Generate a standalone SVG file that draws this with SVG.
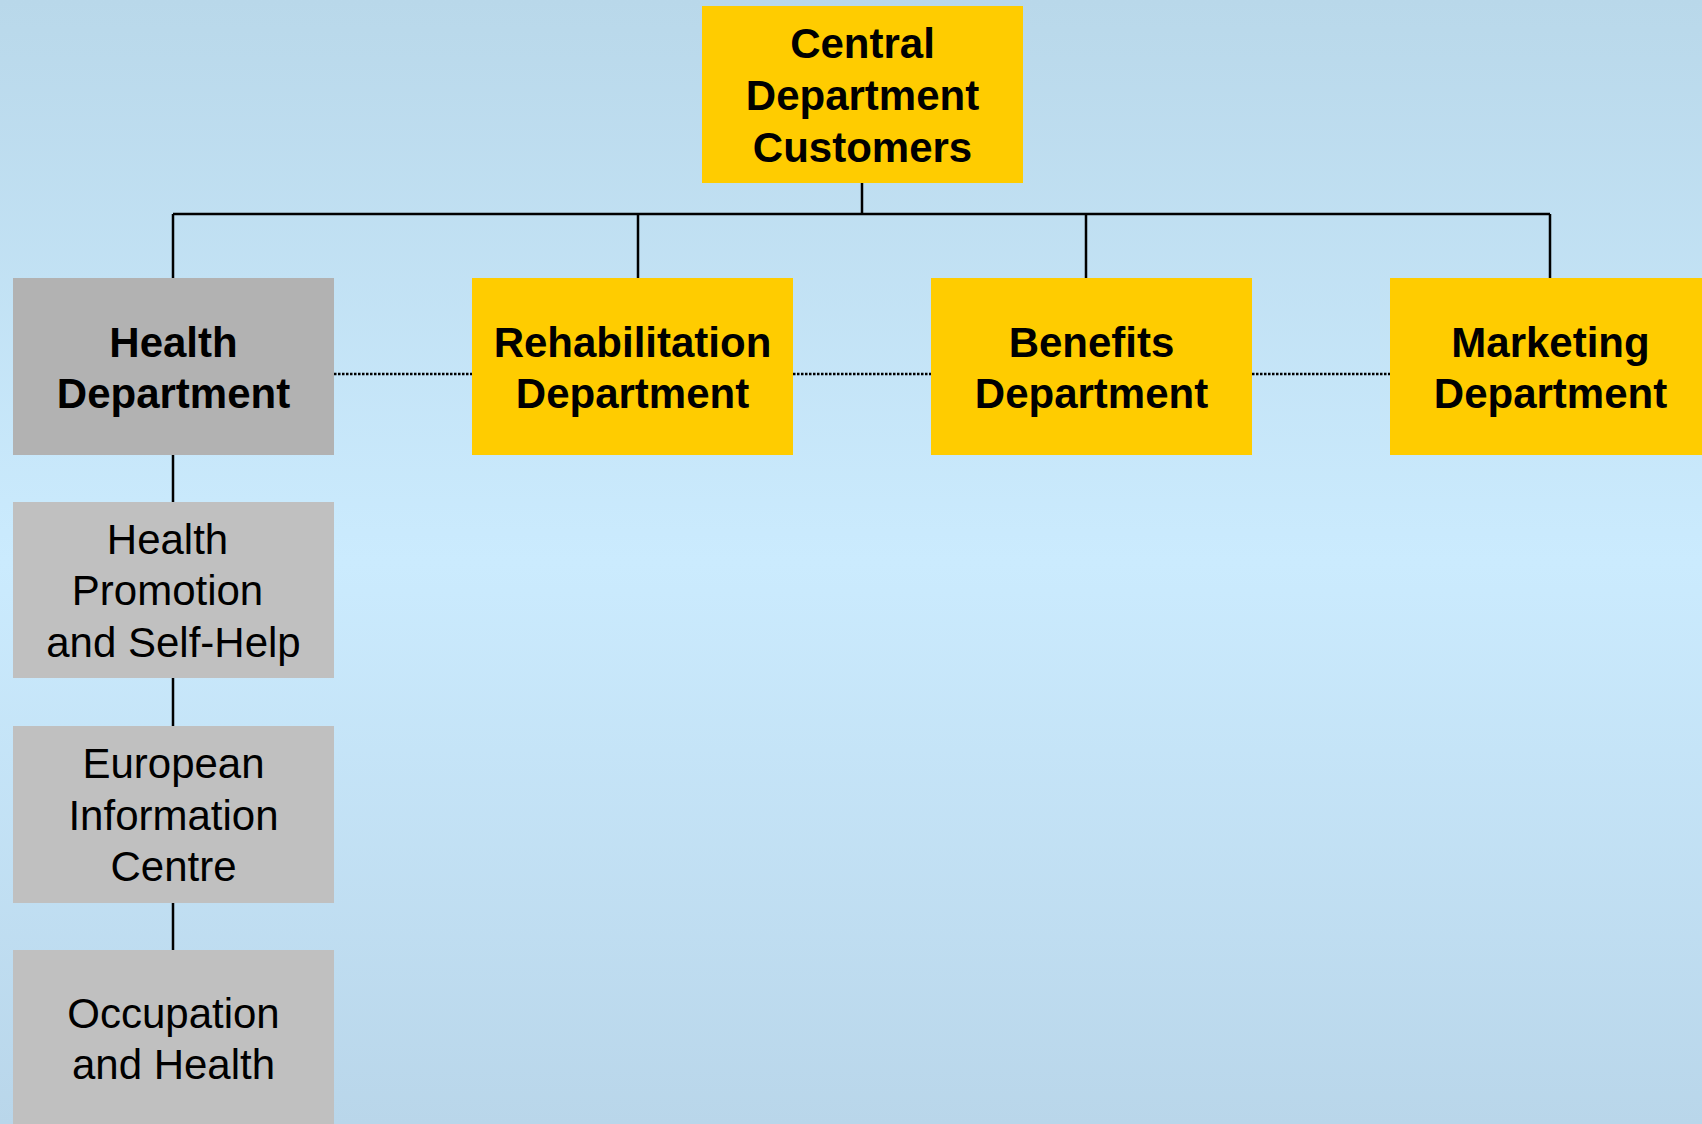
<svg xmlns="http://www.w3.org/2000/svg" width="1702" height="1124" viewBox="0 0 1702 1124">
<defs>
<linearGradient id="bg" x1="0" y1="0" x2="0" y2="1">
<stop offset="0" stop-color="#B9D8EA"/>
<stop offset="0.5" stop-color="#CBEBFE"/>
<stop offset="1" stop-color="#B9D6EA"/>
</linearGradient>
<style>
.y{fill:#FFCC00}
.g1{fill:#B2B2B2}
.g2{fill:#C0C0C0}
.b{font-family:"Liberation Sans",Arial,sans-serif;font-size:42px;font-weight:bold;fill:#000;text-anchor:middle}
.n{font-family:"Liberation Sans",Arial,sans-serif;font-size:42px;fill:#000;text-anchor:middle}
.ln{stroke:#000;stroke-width:2.5;fill:none}
.dot{stroke:#000;stroke-width:2.5;fill:none;stroke-dasharray:2.5 1.5}
</style>
</defs>
<rect x="0" y="0" width="1702" height="1124" fill="url(#bg)"/>
<g id="connectors">
<path class="ln" d="M862 183V214M173 214H1550M173 214V278M638 214V278M1086 214V278M1550 214V278"/>
<path class="ln" d="M173 455V502M173 678V726M173 903V950"/>
<path class="dot" d="M334 374H472M793 374H931M1252 374H1390"/>
</g>
<g id="central">
<rect class="y" x="702" y="6" width="321" height="177"/>
<text class="b" x="862.5" y="58">Central</text>
<text class="b" x="862.5" y="110">Department</text>
<text class="b" x="862.5" y="162">Customers</text>
</g>
<g id="health">
<rect class="g1" x="13" y="278" width="321" height="177"/>
<text class="b" x="173.5" y="357">Health</text>
<text class="b" x="173.5" y="408">Department</text>
</g>
<g id="rehab">
<rect class="y" x="472" y="278" width="321" height="177"/>
<text class="b" x="632.5" y="357">Rehabilitation</text>
<text class="b" x="632.5" y="408">Department</text>
</g>
<g id="benefits">
<rect class="y" x="931" y="278" width="321" height="177"/>
<text class="b" x="1091.5" y="357">Benefits</text>
<text class="b" x="1091.5" y="408">Department</text>
</g>
<g id="marketing">
<rect class="y" x="1390" y="278" width="321" height="177"/>
<text class="b" x="1550.5" y="357">Marketing</text>
<text class="b" x="1550.5" y="408">Department</text>
</g>
<g id="promotion">
<rect class="g2" x="13" y="502" width="321" height="176"/>
<text class="n" x="167.5" y="554">Health</text>
<text class="n" x="167.5" y="605">Promotion</text>
<text class="n" x="173.5" y="657">and Self-Help</text>
</g>
<g id="european">
<rect class="g2" x="13" y="726" width="321" height="177"/>
<text class="n" x="173.5" y="778">European</text>
<text class="n" x="173.5" y="830">Information</text>
<text class="n" x="173.5" y="881">Centre</text>
</g>
<g id="occupation">
<rect class="g2" x="13" y="950" width="321" height="177"/>
<text class="n" x="173.5" y="1028">Occupation</text>
<text class="n" x="173.5" y="1079">and Health</text>
</g>
</svg>
